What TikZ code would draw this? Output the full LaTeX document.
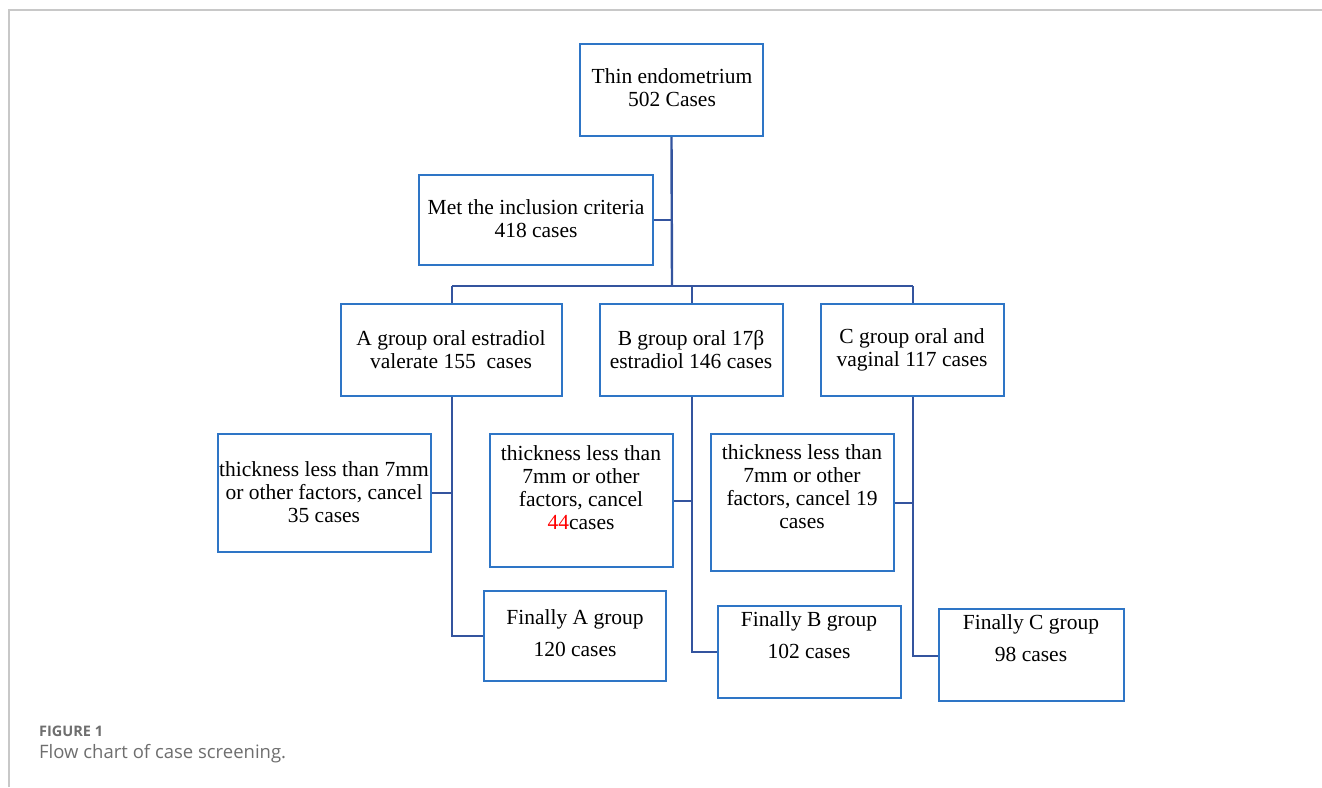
\documentclass[tikz,border=0pt]{standalone}
\usepackage{fontspec}
\setmainfont{Liberation Serif}
\newfontfamily\capfont{Open Sans}
\definecolor{boxc}{RGB}{46,117,198}
\definecolor{linec}{RGB}{52,84,158}
\definecolor{framec}{RGB}{200,200,200}
\definecolor{capc}{RGB}{110,110,110}
\begin{document}
\begin{tikzpicture}[x=1pt,y=-1pt,
  box/.style={draw=boxc,line width=2.3pt,rectangle,inner sep=0pt},
  txt/.style={align=center,inner sep=0pt,font=\fontsize{21.5}{23}\selectfont},
  fin/.style={txt,font=\fontsize{21.5}{32}\selectfont},
  conn/.style={draw=linec,line width=2.4pt}]
\useasboundingbox (0,0) rectangle (1322,787);
% frame
\draw[framec,line width=1.5pt] (9,787) -- (9,10) -- (1322,10);
% boxes: corners
\newcommand{\mybox}[5]{\node[box,minimum width={#3-#1},minimum height={#4-#2}] (#5) at ({(#1+#3)/2},{(#2+#4)/2}) {};}
\mybox{580}{44}{763}{136}{top}
\mybox{419}{175}{653}{265}{incl}
\mybox{341}{304}{562}{396}{ga}
\mybox{600}{304}{783}{396}{gb}
\mybox{821}{304}{1004}{396}{gc}
\mybox{218}{434}{431}{552}{ca}
\mybox{490}{434}{673}{567}{cb}
\mybox{711}{434}{894}{571}{cc}
\mybox{484}{591}{666}{681}{fa}
\mybox{718}{606}{901}{698}{fb}
\mybox{939}{609}{1124}{701}{fc}
% texts
\node[txt] (ttop) at (672,88) {Thin endometrium\\502 Cases};
\node[txt] (tincl) at (536,219) {Met the inclusion criteria\\418 cases};
\node[txt] (tga) at (451,350) {A group oral estradiol\\valerate 155\ \ cases};
\node[txt] (tgb) at (691,350) {B group oral 17β\\estradiol 146 cases};
\node[txt] (tgc) at (912,350) {C group oral and\\vaginal 117 cases};
\node[txt] (tca) at (324,492) {thickness less than 7mm\\or other factors, cancel\\35 cases};
\node[txt] (tcb) at (581,488) {thickness less than\\7mm or other\\factors, cancel\\\textcolor{red}{44}cases};
\node[txt] (tcc) at (802,487) {thickness less than\\7mm or other\\factors, cancel 19\\cases};
\node[fin] (tfa) at (575,633) {Finally A group\\120 cases};
\node[fin] (tfb) at (809,635) {Finally B group\\102 cases};
\node[fin] (tfc) at (1031,638) {Finally C group\\98 cases};
% connectors
\coordinate (j1) at (672,286);
\draw[conn] (top.south) -- (j1);
\draw[conn] (incl.east |- 0,220) -- (672,220);
\draw[conn] (452,286) -- (913,286);
\draw[conn] (452,286) -- (ga.north -| 452,0);
\draw[conn] (692,286) -- (gb.north -| 692,0);
\draw[conn] (913,286) -- (gc.north -| 913,0);
\draw[conn] (ga.south -| 452,0) -- (452,636) -- (fa.west |- 0,636);
\draw[conn] (ca.east |- 0,493) -- (452,493);
\draw[conn] (gb.south -| 692,0) -- (692,652) -- (fb.west |- 0,652);
\draw[conn] (cb.east |- 0,501) -- (692,501);
\draw[conn] (gc.south -| 913,0) -- (913,656) -- (fc.west |- 0,656);
\draw[conn] (cc.east |- 0,503) -- (913,503);
% caption
\node[anchor=west,inner sep=0pt,text=capc,font=\capfont\bfseries\fontsize{14.5}{16}\selectfont] (cap1) at (39,731) {FIGURE 1};
\node[anchor=west,inner sep=0pt,text=capc,font=\capfont\fontsize{18.5}{20}\selectfont] (cap2) at (39,754) {Flow chart of case screening.};
\end{tikzpicture}
\end{document}
